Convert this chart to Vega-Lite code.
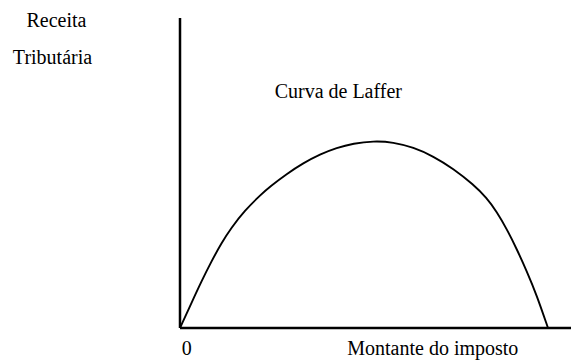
{
  "$schema": "https://vega.github.io/schema/vega-lite/v6.json",
  "width": 391,
  "height": 310,
  "autosize": {"type": "none"},
  "padding": {"left": 180, "top": 18, "right": 1, "bottom": 32},
  "background": "white",
  "config": {"view": {"stroke": null}, "font": "Liberation Serif"},
  "datasets": {
    "curve": [
      {"x": 0, "y": 0},
      {"x": 3.07, "y": 13.2},
      {"x": 5.79, "y": 24.8},
      {"x": 8.51, "y": 35.5},
      {"x": 11.22, "y": 45.3},
      {"x": 13.94, "y": 53.6},
      {"x": 17.58, "y": 62.8},
      {"x": 22.09, "y": 71.6},
      {"x": 24.46, "y": 75.6},
      {"x": 28.99, "y": 82.4},
      {"x": 33.51, "y": 88.2},
      {"x": 38.04, "y": 92.9},
      {"x": 42.58, "y": 96.4},
      {"x": 47.09, "y": 98.7},
      {"x": 52.53, "y": 100},
      {"x": 57.96, "y": 99.4},
      {"x": 63.4, "y": 96.6},
      {"x": 68.83, "y": 91.9},
      {"x": 74.27, "y": 85.2},
      {"x": 79.7, "y": 76.8},
      {"x": 83.34, "y": 69.6},
      {"x": 86.06, "y": 62.2},
      {"x": 88.78, "y": 53.0},
      {"x": 91.49, "y": 42.3},
      {"x": 94.21, "y": 30.5},
      {"x": 96.93, "y": 17.6},
      {"x": 100, "y": 0}
    ],
    "axes": [
      {"x": 0, "y": 0, "x2": 0, "y2": 165.8},
      {"x": 0, "y": 0, "x2": 106.25, "y2": 0}
    ],
    "labels": [
      {"x": -33.56, "y": 160.8, "text": "Receita"},
      {"x": -34.65, "y": 141.2, "text": "Tributária"},
      {"x": 43.02, "y": 122.8, "text": "Curva de Laffer"},
      {"x": 1.82, "y": -14.4, "text": "0"},
      {"x": 68.7, "y": -14.4, "text": "Montante do imposto"}
    ]
  },
  "layer": [
    {
      "data": {"name": "axes"},
      "mark": {"type": "rule", "color": "black", "strokeWidth": 2.5},
      "encoding": {
        "x": {"field": "x", "type": "quantitative", "scale": {"domain": [0, 106.25], "nice": false, "zero": false}, "axis": null},
        "y": {"field": "y", "type": "quantitative", "scale": {"domain": [0, 165.8], "nice": false, "zero": false}, "axis": null},
        "x2": {"field": "x2"},
        "y2": {"field": "y2"}
      }
    },
    {
      "data": {"name": "curve"},
      "mark": {"type": "line", "color": "black", "strokeWidth": 1.9, "interpolate": "basis"},
      "encoding": {
        "x": {"field": "x", "type": "quantitative", "axis": null},
        "y": {"field": "y", "type": "quantitative", "axis": null}
      }
    },
    {
      "data": {"name": "labels"},
      "mark": {"type": "text", "font": "Liberation Serif", "fontSize": 20, "color": "black", "align": "center", "baseline": "alphabetic"},
      "encoding": {
        "x": {"field": "x", "type": "quantitative", "axis": null},
        "y": {"field": "y", "type": "quantitative", "axis": null},
        "text": {"field": "text"}
      }
    }
  ]
}
